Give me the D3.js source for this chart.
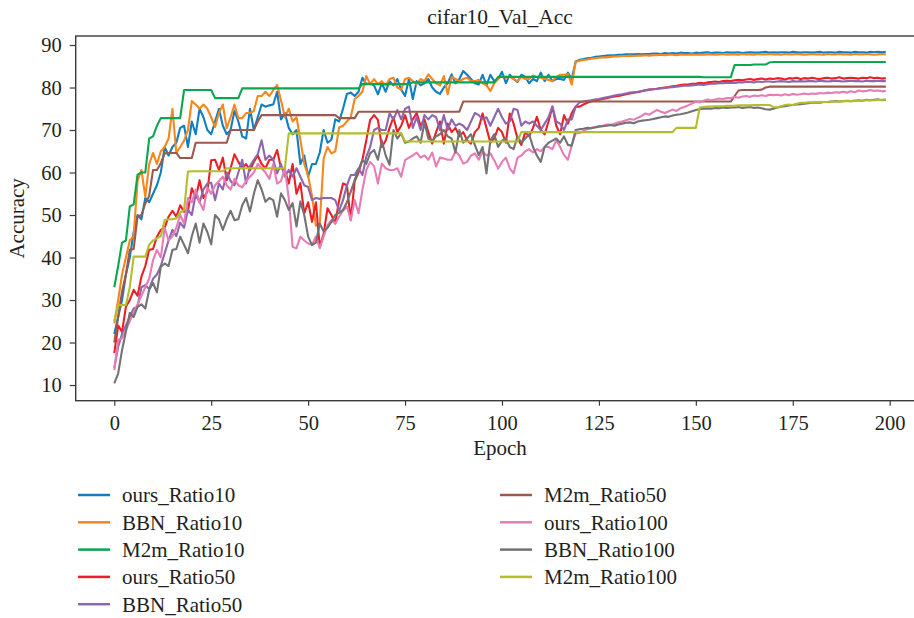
<!DOCTYPE html>
<html>
<head>
<meta charset="utf-8">
<script src="https://cdn.jsdelivr.net/npm/d3@7"></script>
<style>
  body { margin: 0; background: #fff; }
  text { font-family: "Liberation Serif", "DejaVu Serif", serif; fill: #231f20; }
</style>
</head>
<body>
<div id="chart"></div>
<script>
const seriesNames = ["ours_Ratio10", "BBN_Ratio10", "M2m_Ratio10", "ours_Ratio50", "BBN_Ratio50",
  "M2m_Ratio50", "ours_Ratio100", "BBN_Ratio100", "M2m_Ratio100"];
const seriesColors = ["#0f7fc1", "#f7861d", "#0aa650", "#ec1f26", "#8e66ae",
  "#9c5a4e", "#e87cb6", "#737373", "#b4bd2c"];

const oursRatio10 = [
  22, 26, 30, 36, 40, 46, 50, 49, 54, 53,
  55, 57, 60, 66, 64, 66, 67, 70.5, 71, 66,
  72, 69, 75, 73, 70, 69, 72, 75, 71, 69,
  70, 74.5, 72, 68.5, 68, 75, 70, 73, 76, 75.5,
  75.8, 76, 79, 72.5, 74, 70.5, 69, 70, 62, 64,
  59, 62, 62, 64.7, 70, 67, 67.7, 72.5, 72, 75,
  78.5, 78.8, 78, 79, 82.3, 80.8, 81, 80.5, 78.4, 81,
  79, 81.5, 80.5, 82, 79.5, 78, 82, 77.3, 81.5, 80.5,
  81, 82, 80, 79, 78.5, 80, 81, 83.1, 81, 82,
  83.9, 83, 82, 81, 80.7, 83, 80.5, 83, 81.5, 82,
  83.7, 81, 83, 82, 81.3, 83, 82.5, 81, 82, 81.5,
  83.5, 81.5, 83, 81.5, 82, 82, 81.8, 83.5, 82, 86.1,
  86.5, 86.7, 86.9, 87.0, 87.2, 87.3, 87.4, 87.5, 87.6, 87.6,
  87.7, 87.7, 87.8, 87.8, 87.8, 87.9, 87.8, 87.9, 87.9, 88.0,
  88.0, 87.9, 88.1, 88.0, 88.1, 88.0, 88.2, 88.1, 88.1, 88.0,
  88.2, 88.1, 88.2, 88.3, 88.1, 88.2, 88.2, 88.1, 88.3, 88.2,
  88.2, 88.3, 88.1, 88.2, 88.3, 88.2, 88.2, 88.3, 88.4, 88.2,
  88.3, 88.2, 88.3, 88.3, 88.2, 88.4, 88.3, 88.2, 88.3, 88.3,
  88.2, 88.3, 88.4, 88.2, 88.3, 88.3, 88.2, 88.4, 88.3, 88.3,
  88.2, 88.4, 88.3, 88.3, 88.2, 88.4, 88.3, 88.4, 88.3, 88.4
];
const bbnRatio10 = [
  24.5, 30, 36, 40, 44, 45, 58, 60.6, 54.3, 62,
  64.6, 62, 65, 66, 68, 75, 64.6, 66, 67.5, 70,
  76.8, 76, 75, 76, 75, 73, 70.7, 74, 76, 70.4,
  73, 76, 72.8, 72.8, 74, 74, 74.5, 78, 78, 79,
  78, 79.4, 80.6, 77, 73, 75, 72, 73, 67.7, 62,
  59.2, 54.5, 47.5, 48, 63.3, 66, 64.5, 65, 70.6, 71,
  72, 73, 77.3, 78, 79, 82.7, 80.8, 82, 80.8, 81.5,
  80.5, 82, 82.3, 80, 79.5, 82, 82.3, 81.5, 80.8, 82,
  81.5, 83.1, 82, 81, 80.5, 82.7, 78.4, 82.5, 82, 81.5,
  82, 82.3, 81.5, 81.5, 81.8, 81, 80.5, 79.2, 81, 82,
  82.7, 82.3, 82.5, 82, 81.5, 82.5, 82, 82, 82.8, 82.5,
  82.3, 82, 81.8, 81.5, 82.5, 83, 83, 83.2, 80.7, 86,
  86.3, 86.5, 86.6, 86.8, 86.9, 87.0, 87.1, 87.1, 87.2, 87.3,
  87.3, 87.4, 87.4, 87.5, 87.4, 87.5, 87.5, 87.6, 87.5, 87.6,
  87.6, 87.7, 87.6, 87.7, 87.7, 87.6, 87.8, 87.7, 87.7, 87.8,
  87.7, 87.8, 87.7, 87.8, 87.8, 87.7, 87.8, 87.9, 87.7, 87.8,
  87.8, 87.7, 87.9, 87.8, 87.8, 87.7, 87.9, 87.8, 87.8, 87.9,
  87.8, 87.8, 87.7, 87.9, 87.8, 87.8, 87.9, 87.8, 87.7, 87.8,
  87.9, 87.8, 87.8, 87.7, 87.9, 87.8, 87.8, 87.9, 87.8, 87.8,
  87.7, 87.9, 87.8, 87.8, 87.9, 87.8, 87.7, 87.8, 87.9, 87.8
];
const m2mRatio10 = [
  33, 38, 43.5, 44, 52, 52.5, 59.5, 60, 60, 68,
  68.5, 71, 72.8, 72.8, 72.8, 72.8, 72.8, 72.8, 79.4, 79.4,
  79.4, 79.4, 79.4, 79.4, 79.4, 79.4, 77.5, 77.5, 77.5, 77.5,
  77.5, 77.5, 77.5, 79.8, 79.8, 79.8, 79.8, 79.8, 79.8, 79.8,
  79.8, 79.8, 79.8, 79.8, 79.8, 79.8, 79.8, 79.8, 79.8, 79.8,
  79.8, 79.8, 79.8, 79.8, 79.8, 79.8, 79.8, 79.8, 79.8, 79.8,
  79.8, 79.8, 79.8, 79.8, 80.8, 80.8, 80.8, 80.8, 80.8, 80.8,
  80.8, 80.8, 80.8, 80.8, 80.8, 80.8, 80.8, 81.2, 81.2, 81.2,
  81.2, 81.2, 81.2, 81.2, 81.2, 81.2, 81.2, 81.2, 81.2, 81.2,
  81.2, 81.2, 81.2, 81.2, 81.2, 81.2, 81.2, 81.2, 81.2, 82.5,
  82.5, 82.5, 82.5, 82.5, 82.5, 82.5, 82.5, 82.5, 82.5, 82.5,
  82.5, 82.5, 82.5, 82.5, 82.5, 82.5, 82.5, 82.5, 82.5, 82.5,
  82.5, 82.5, 82.5, 82.5, 82.5, 82.5, 82.5, 82.5, 82.5, 82.5,
  82.5, 82.5, 82.5, 82.5, 82.5, 82.5, 82.5, 82.5, 82.5, 82.5,
  82.5, 82.5, 82.5, 82.5, 82.5, 82.5, 82.5, 82.5, 82.5, 82.5,
  82.5, 82.5, 82.4, 82.4, 82.4, 82.4, 82.4, 82.4, 82.4, 82.4,
  85.3, 85.3, 85.3, 85.3, 85.3, 85.4, 85.4, 85.4, 85.4, 85.9,
  86, 86, 86, 86, 86, 86, 86, 86, 86, 86,
  86, 86, 86, 86, 86, 86, 86, 86, 86, 86,
  86, 86, 86, 86, 86, 86, 86, 86, 86, 86
];
const oursRatio50 = [
  17.5, 24, 22.5, 28.4, 30, 32.4, 31, 35.5, 38, 41.8,
  42, 44.9, 46.5, 47, 49.6, 51, 49.6, 52.3, 50.8, 51,
  56.3, 54, 58.2, 54, 55.5, 62.9, 63, 60.6, 63.5, 58.2,
  61, 64.3, 62.5, 61, 62, 60.5, 62.5, 64, 62, 61,
  63, 63, 65.3, 61, 60.6, 57.4, 62, 55, 57.5, 50.4,
  53, 48.4, 53, 42.5, 45.5, 51.6, 50, 48, 53.5, 57.4,
  57, 48.8, 57.9, 60, 63, 67.6, 72.4, 73.5, 72.4, 66,
  67.5, 70.5, 73, 69.5, 71, 73.5, 70.5, 72.5, 74, 71,
  72.5, 69.5, 66.8, 69.5, 72, 66.8, 71.5, 69.5, 70.5, 68.5,
  69.5, 67.6, 66.8, 69.5, 70.5, 73.9, 70.5, 67, 68, 70.5,
  69.5, 67, 73.9, 71.5, 68, 66.5, 69.5, 68.5, 70.5, 73.1,
  70, 69, 72, 75.5, 71, 69, 73.5, 71.5, 74, 75.5,
  75.5, 76.0, 76.4, 76.7, 76.9, 77.1, 77.3, 77.5, 77.7, 77.9,
  78.0, 78.2, 78.4, 78.6, 78.8, 78.9, 79.1, 79.3, 79.5, 79.6,
  79.7, 79.9, 80.0, 80.1, 80.3, 80.4, 80.6, 80.7, 80.7, 80.9,
  80.9, 81.1, 81.0, 81.2, 81.3, 81.4, 81.3, 81.5, 81.6, 81.5,
  81.7, 81.8, 81.7, 81.9, 82.0, 81.8, 82.0, 82.1, 81.9, 82.1,
  82.0, 82.2, 82.1, 81.9, 82.2, 82.1, 82.3, 82.0, 82.2, 82.1,
  82.3, 82.1, 82.0, 82.2, 82.3, 82.1, 82.2, 82.4, 82.1, 82.2,
  82.3, 82.2, 82.1, 82.3, 82.2, 82.4, 82.2, 82.3, 82.1, 82.2
];
const bbnRatio50 = [
  14, 19, 22, 24, 26, 28, 28.4, 33, 33.5, 32.6,
  35, 36, 38, 41, 44, 46.5, 45, 48.2, 47, 51.2,
  50, 55, 53, 56, 57.4, 57.6, 53.5, 57.4, 56, 60,
  58, 57, 60, 63, 57.4, 61.5, 63, 64.3, 67.6, 63,
  64, 63, 59.8, 62, 59, 60.6, 59, 61, 59, 57,
  56.6, 53.5, 54, 53.8, 54, 54, 54, 53.5, 51, 53.5,
  57, 59.4, 59.4, 61, 59.4, 63.7, 66, 70, 70.5, 70,
  70, 73.9, 72.5, 74.7, 72.5, 75, 75.5, 70.5, 73, 70,
  73.5, 72.5, 73.5, 73, 70, 73.5, 70, 72.5, 71, 71.5,
  71, 70, 72, 74, 73.5, 72.5, 73, 71, 73, 75,
  73, 71.5, 72, 75, 74.7, 71, 72, 71.5, 72, 71,
  70, 71.5, 73, 75.5, 72, 71.5, 70, 72.5, 72.5, 75.5,
  76.5, 76.7, 76.9, 77.0, 77.2, 77.3, 77.5, 77.7, 77.9, 78.1,
  78.3, 78.4, 78.6, 78.8, 78.9, 79.0, 79.2, 79.4, 79.5, 79.6,
  79.7, 79.8, 79.9, 80.0, 80.1, 80.2, 80.3, 80.4, 80.4, 80.5,
  80.6, 80.7, 80.6, 80.8, 80.9, 80.9, 81.0, 81.0, 81.1, 81.1,
  81.1, 81.2, 81.2, 81.3, 81.3, 81.2, 81.4, 81.3, 81.4, 81.4,
  81.3, 81.4, 81.5, 81.4, 81.3, 81.5, 81.4, 81.5, 81.4, 81.5,
  81.5, 81.4, 81.6, 81.5, 81.4, 81.5, 81.6, 81.5, 81.4, 81.5,
  81.6, 81.5, 81.5, 81.4, 81.6, 81.5, 81.5, 81.6, 81.5, 81.5
];
const m2mRatio50 = [
  20, 26, 32, 36, 41.8, 42, 49.6, 50, 52.7, 54.5,
  60.6, 60.6, 62.2, 64.5, 64.6, 64.6, 64.6, 63.4, 63.4, 63.4,
  63.4, 67, 67, 67, 67, 67, 67, 67, 67, 67,
  70, 70, 70, 70, 70, 70, 70, 72, 73.5, 73.5,
  73.5, 73.5, 73.5, 73.5, 73.5, 73.5, 73.5, 73.5, 73.5, 73.5,
  73.5, 73.5, 73.5, 73.5, 73.5, 73.5, 73.5, 73.5, 72.8, 72.8,
  72.8, 72.8, 72.8, 74.3, 74.3, 74.3, 74.3, 74.3, 74.3, 74.3,
  74.3, 74.3, 74.3, 74.3, 74.3, 74.3, 74.3, 74.3, 74.3, 74.3,
  74.3, 74.3, 74.3, 74.3, 74.3, 74.3, 74.3, 74.3, 74.3, 74.3,
  76.7, 76.7, 76.7, 76.7, 76.7, 76.7, 76.7, 76.7, 76.7, 76.7,
  76.7, 76.7, 76.7, 76.7, 76.7, 76.7, 76.7, 76.7, 76.7, 76.7,
  76.7, 76.7, 76.7, 76.7, 76.7, 76.7, 76.7, 76.7, 76.7, 76.7,
  76.7, 76.7, 76.7, 76.7, 76.7, 76.7, 76.7, 76.7, 76.7, 76.7,
  76.7, 76.7, 76.7, 76.7, 76.7, 76.7, 76.7, 76.7, 76.7, 76.7,
  76.7, 76.7, 76.7, 76.7, 76.7, 76.7, 76.7, 76.7, 76.7, 76.7,
  76.7, 76.7, 76.7, 76.7, 76.7, 76.7, 76.7, 76.7, 76.7, 76.7,
  78, 79.3, 79.4, 79.4, 79.4, 79.4, 79.4, 79.5, 80, 80.2,
  80.2, 80.2, 80.2, 80.2, 80.2, 80.2, 80.2, 80.2, 80.2, 80.2,
  80.2, 80.2, 80.2, 80.2, 80.2, 80.2, 80.2, 80.2, 80.2, 80.2,
  80.2, 80.2, 80.2, 80.2, 80.2, 80.2, 80.2, 80.2, 80.2, 80.2
];
const oursRatio100 = [
  13.5, 20.6, 21, 23, 25, 27, 29, 31, 33, 35,
  39.4, 41.8, 40, 47, 44, 45, 47, 50, 48, 54,
  53, 56, 53, 51.2, 56.5, 55, 57, 58, 59, 57,
  56, 58.5, 57, 56.5, 58, 59, 60, 62, 61, 60,
  58.5, 62, 57.4, 58, 61, 53.9, 42.5, 42.2, 44.9, 44,
  43.3, 43, 44.9, 42.2, 44.9, 47.6, 48.8, 48, 49.6, 51,
  52, 48.8, 53.5, 50.4, 55.9, 60.6, 62.5, 61.5, 57.4, 62.1,
  61, 60.6, 60.6, 61, 59, 62.9, 63.5, 64, 64.7, 63.5,
  64, 63, 64.7, 61.4, 63.5, 63.3, 63, 63, 65, 64,
  62.1, 62.5, 64, 64.5, 63, 65, 64, 64.5, 62.9, 60.9,
  62.5, 63.5, 61, 59.8, 63.5, 64, 65, 65.5, 64.7, 65.5,
  65, 66, 66, 65.5, 67.6, 66, 64.1, 63, 66.5, 69.2,
  69.3, 69.8, 70.2, 70.5, 70.7, 70.9, 71.0, 71.3, 71.2, 71.5,
  71.8, 72.0, 72.3, 72.6, 72.4, 72.9, 73.3, 73.9, 73.6, 74.2,
  74.7, 74.3, 74.0, 74.4, 74.8, 74.5, 75.1, 75.4, 75.8, 76.2,
  76.7, 76.5, 76.9, 77.2, 77.0, 77.2, 77.4, 77.3, 77.5, 77.5,
  77.8, 77.6, 77.9, 78.0, 77.8, 78.1, 78.0, 78.2, 78.0, 78.3,
  78.2, 78.3, 78.1, 78.4, 78.2, 78.5, 78.3, 78.4, 78.6, 78.4,
  78.6, 78.5, 78.7, 78.6, 78.8, 78.7, 78.9, 78.8, 79.0, 78.8,
  79.1, 78.9, 79.3, 79.1, 79.2, 79.4, 79.2, 79.3, 79.1, 79.2
];
const bbnRatio100 = [
  10.4, 12.7, 18.2, 22.5, 27, 26, 28.4, 29, 28, 32.4,
  34, 31.8, 37.8, 38.6, 38, 41.8, 42, 44.9, 43, 41,
  45, 48, 43.5, 48, 46, 43.1, 50, 49, 46.5, 49,
  51, 48.8, 49, 52.3, 54, 50.8, 55, 58.2, 56, 53.1,
  54, 53.5, 49.6, 55.1, 53.5, 51.2, 52.8, 47.3, 53.2, 50,
  44.9, 42.9, 43.5, 48, 46.1, 47, 48.4, 50, 50.5, 51.2,
  53, 55.5, 58.2, 60.6, 63, 62, 64.5, 65.3, 63, 67.5,
  64, 61.8, 70, 68, 69.2, 67, 67.3, 68, 68.5, 67,
  71.7, 68, 67.5, 68.5, 69, 70, 68.5, 68, 64.7, 70,
  67, 68, 69, 66.5, 64.1, 66, 59.8, 67.5, 69, 66,
  67.5, 68, 66, 65.5, 68.5, 67, 68, 69, 66, 64,
  62.5, 66, 67, 67.5, 68, 67, 68.5, 66.5, 66.3, 70,
  70.2, 70.3, 70.5, 70.4, 70.6, 70.8, 70.9, 71.0, 71.2, 71.0,
  71.3, 71.5, 71.7, 71.8, 71.6, 72.0, 72.2, 72.3, 72.4, 72.6,
  72.8, 73.0, 73.2, 73.1, 73.4, 73.6, 73.7, 73.9, 74.1, 74.4,
  74.7, 74.9, 75.0, 75.1, 75.0, 75.2, 75.1, 75.3, 75.2, 75.3,
  75.3, 75.4, 75.2, 75.3, 75.4, 75.2, 75.3, 75.1, 74.9, 74.8,
  75.0, 75.3, 75.5, 75.6, 75.8, 75.9, 76.0, 76.1, 76.2, 76.3,
  76.4, 76.5, 76.4, 76.6, 76.6, 76.7, 76.8, 76.7, 76.8, 76.9,
  76.8, 76.9, 77.0, 76.9, 77.1, 77.0, 77.1, 77.2, 77.0, 77.1
];
const m2mRatio100 = [
  25, 28.8, 28.8, 28.8, 33, 40.2, 40.2, 40.2, 40.2, 43,
  44, 44.5, 45, 48.8, 49, 49, 49.2, 50.5, 51.2, 60.2,
  60.3, 60.3, 60.3, 60.3, 60.3, 60.3, 60.3, 60.3, 60.3, 61,
  61, 61, 61, 61, 61, 61, 61, 61, 61, 61,
  61, 61, 61, 61, 61, 69.2, 69.2, 69.2, 69.2, 69.2,
  69.2, 69.2, 69.2, 69.2, 69.2, 69.2, 69.2, 69.2, 69.2, 69.2,
  69.2, 69.2, 69.2, 69.2, 69.2, 69.2, 69.2, 69.2, 69.2, 69.2,
  69.2, 69.2, 69.2, 69.2, 69.2, 67.3, 67.3, 67.3, 67.3, 67.3,
  67.3, 67.3, 67.3, 67.3, 67.3, 67.3, 67.3, 67.3, 67.3, 67.3,
  67.3, 67.3, 67.3, 67.3, 67.3, 67.3, 67.3, 67.3, 67.3, 67.3,
  67.3, 67.3, 67.3, 67.3, 67.3, 69.5, 69.5, 69.5, 69.5, 69.5,
  69.5, 69.5, 69.5, 69.5, 69.5, 69.5, 69.5, 69.5, 69.5, 69.5,
  69.5, 69.5, 69.5, 69.5, 69.5, 69.5, 69.5, 69.5, 69.5, 69.5,
  69.5, 69.5, 69.5, 69.5, 69.5, 69.5, 69.5, 69.5, 69.5, 69.5,
  69.5, 69.5, 69.5, 69.5, 69.5, 70.5, 70.5, 70.5, 70.5, 70.5,
  70.5, 75.3, 75.4, 75.5, 75.5, 75.6, 75.6, 75.6, 75.7, 75.7,
  75.7, 75.8, 75.8, 75.8, 75.8, 75.9, 75.9, 75.9, 75.9, 75.9,
  75.4, 75.3, 75.6, 75.9, 76.0, 75.9, 76.2, 76.4, 76.4, 76.5,
  76.5, 76.5, 76.6, 76.6, 76.6, 76.7, 76.7, 76.7, 76.8, 76.8,
  76.8, 76.9, 76.9, 76.9, 77.0, 77.0, 77.0, 77.1, 77.1, 77.2
];

const seriesValues = [oursRatio10, bbnRatio10, m2mRatio10, oursRatio50, bbnRatio50,
  m2mRatio50, oursRatio100, bbnRatio100, m2mRatio100];
const xTicks = [0, 25, 50, 75, 100, 125, 150, 175, 200];
const yTicks = [10, 20, 30, 40, 50, 60, 70, 80, 90];

const width = 914;
const height = 618;
const plot = { left: 75.7, right: 924.4, top: 36, bottom: 400.7 };

const svg = d3.select("#chart").append("svg")
  .attr("width", width)
  .attr("height", height);

const x = d3.scaleLinear().domain([-9.95, 208.95]).range([plot.left, plot.right]);
const y = d3.scaleLinear().domain([6.31, 92.12]).range([plot.bottom, plot.top]);

svg.append("clipPath").attr("id", "plot-clip")
  .append("rect")
  .attr("x", plot.left).attr("y", plot.top)
  .attr("width", plot.right - plot.left).attr("height", plot.bottom - plot.top);

// lines, drawn in legend order so later series sit on top
const line = d3.line()
  .x((d, i) => x(i))
  .y(d => y(d));

svg.append("g")
  .attr("clip-path", "url(#plot-clip)")
  .selectAll("path")
  .data(seriesValues)
  .enter().append("path")
  .attr("d", line)
  .attr("fill", "none")
  .attr("stroke", (d, i) => seriesColors[i])
  .attr("stroke-width", 2.1)
  .attr("stroke-linejoin", "round");

// axes
const xAxis = svg.append("g")
  .attr("transform", `translate(0,${plot.bottom})`)
  .call(d3.axisBottom(x).tickValues(xTicks).tickSize(5).tickPadding(9.5));
const yAxis = svg.append("g")
  .attr("transform", `translate(${plot.left},0)`)
  .call(d3.axisLeft(y).tickValues(yTicks).tickSize(6).tickPadding(8));

[xAxis, yAxis].forEach(g => {
  g.select(".domain").remove();
  g.selectAll(".tick line").attr("stroke", "#3a3a3a").attr("stroke-width", 1.2);
  g.selectAll(".tick text").style("font-size", "20.5px").attr("fill", "#231f20");
});

// spines
svg.append("rect")
  .attr("x", plot.left).attr("y", plot.top)
  .attr("width", plot.right - plot.left).attr("height", plot.bottom - plot.top)
  .attr("fill", "none")
  .attr("stroke", "#3a3a3a")
  .attr("stroke-width", 1.4);

// title and axis labels
svg.append("text")
  .attr("x", (plot.left + plot.right) / 2).attr("y", 24)
  .attr("text-anchor", "middle")
  .style("font-size", "21.5px")
  .text("cifar10_Val_Acc");

svg.append("text")
  .attr("x", (plot.left + plot.right) / 2).attr("y", 455)
  .attr("text-anchor", "middle")
  .style("font-size", "21px")
  .text("Epoch");

svg.append("text")
  .attr("transform", `translate(24,${(plot.top + plot.bottom) / 2}) rotate(-90)`)
  .attr("text-anchor", "middle")
  .style("font-size", "21px")
  .text("Accuracy");

// legend, two columns filled top to bottom
const legend = svg.append("g");
const legendItems = legend.selectAll("g")
  .data(seriesNames)
  .enter().append("g")
  .attr("transform", (d, i) => {
    const col = i < 5 ? 0 : 1;
    const row = i < 5 ? i : i - 5;
    return `translate(${col === 0 ? 78 : 500},${495 + row * 27.3})`;
  });

legendItems.append("line")
  .attr("x1", 0).attr("x2", 32)
  .attr("stroke", (d, i) => seriesColors[i])
  .attr("stroke-width", 2.5);

legendItems.append("text")
  .attr("x", 44).attr("dy", "0.35em")
  .style("font-size", "21px")
  .text(d => d);
</script>
</body>
</html>
